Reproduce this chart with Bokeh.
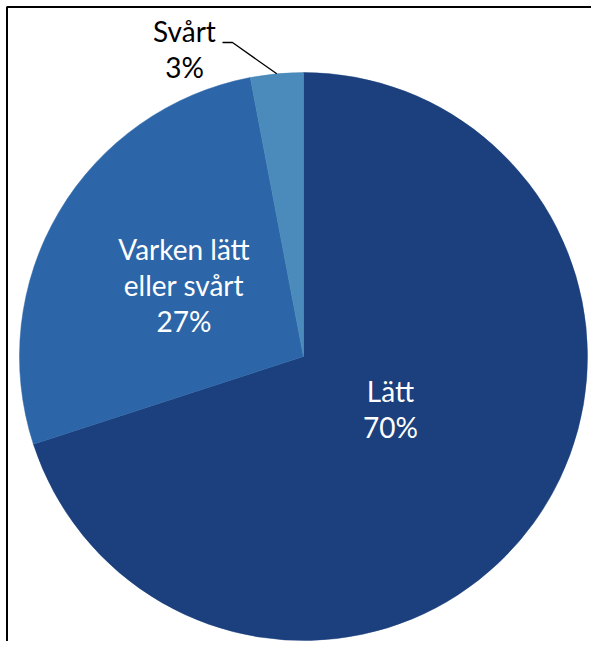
import numpy as np
from bokeh.plotting import figure
from bokeh.models import Range1d
from bokeh.core.properties import value
from bokeh.embed import file_html
from bokeh.resources import INLINE

categories = ["Lätt", "Varken lätt\neller svårt", "Svårt"]
percents = [70, 27, 3]
colors = ["#1b407d", "#2d66a8", "#4a8bbb"]
label_colors = ["white", "white", "black"]

W, H = 591, 641
p = figure(width=W, height=H, x_range=Range1d(0, W), y_range=Range1d(0, H),
           output_backend="svg", toolbar_location=None, min_border=0)
p.axis.visible = False
p.grid.visible = False
p.outline_line_color = None
p.background_fill_color = "white"
p.border_fill_color = "white"

cx, cy, r = 303.0, 285.0, 284.0

vals = np.array(percents, dtype=float)
frac = vals / vals.sum()
cum = np.concatenate([[0], np.cumsum(frac)])
start = np.pi / 2 - cum[:-1] * 2 * np.pi
end = np.pi / 2 - cum[1:] * 2 * np.pi

p.wedge(x=[cx] * 3, y=[cy] * 3, radius=r, start_angle=list(start), end_angle=list(end),
        direction="clock", fill_color=colors, line_color=colors, line_width=0.5)

# frame (left and top edges)
p.line([6.5, 6.5, W], [0, H - 6.5, H - 6.5], line_color="black", line_width=2)

# labels
label_pos = [(390, 232.5), (183.5, 356.5), (184, 592.5)]
texts = [f"{c}\n{v}%" for c, v in zip(categories, percents)]
p.text(x=[q[0] for q in label_pos], y=[q[1] for q in label_pos], text=texts,
       text_color=label_colors, text_align="center", text_baseline="middle",
       text_font=value("Lato"), text_font_size="28px", text_line_height=1.05)

# leader line for small slice
mid = (start[2] + end[2]) / 2
ex, ey = cx + r * np.cos(mid), cy + r * np.sin(mid)
p.line([222, 232, ex], [599, 599, ey], line_color="black", line_width=1.3)

open("out.html", "w").write(file_html(p, INLINE))
